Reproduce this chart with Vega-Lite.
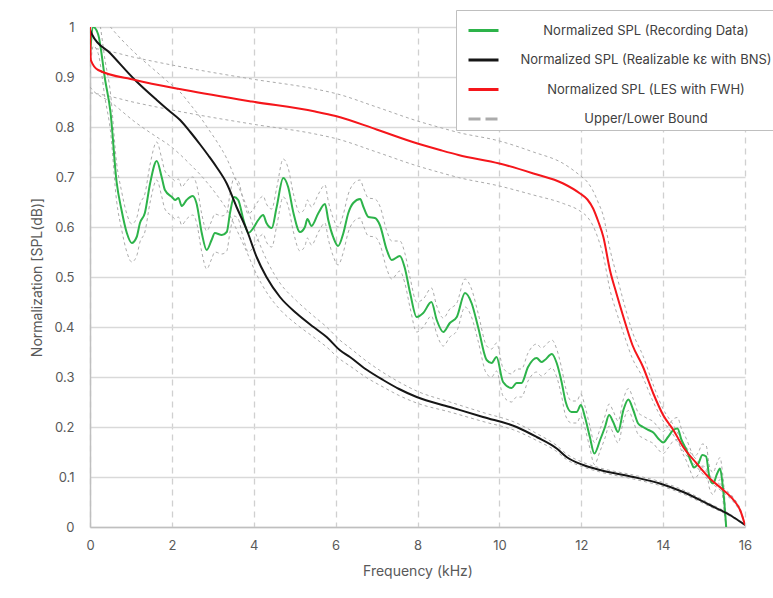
{
"$schema": "https://vega.github.io/schema/vega-lite/v6.json",
"width": 655, "height": 500,
"autosize": {"type": "none"},
"padding": {"left": 90, "top": 27, "right": 28, "bottom": 71},
"background": "white",
"config": {
 "font": "Inter",
 "view": {"stroke": null},
 "axis": {"labelColor": "#595959", "labelFontSize": 13, "titleColor": "#595959", "titleFontSize": 14, "titleFontWeight": "normal", "ticks": false, "domainColor": "#bfbfbf", "domainWidth": 1.5, "labelFlush": false}
},
"data": {"values": [
{"s":"Normalized SPL (Recording Data)","x":0,"y":0.945,"lo":0.907,"hi":0.983},
{"s":"Normalized SPL (Recording Data)","x":0.08,"y":1.0,"lo":0.962,"hi":1.038},
{"s":"Normalized SPL (Recording Data)","x":0.2,"y":0.985,"lo":0.947,"hi":1.023},
{"s":"Normalized SPL (Recording Data)","x":0.37,"y":0.894,"lo":0.856,"hi":0.932},
{"s":"Normalized SPL (Recording Data)","x":0.5,"y":0.83,"lo":0.792,"hi":0.868},
{"s":"Normalized SPL (Recording Data)","x":0.65,"y":0.69,"lo":0.652,"hi":0.728},
{"s":"Normalized SPL (Recording Data)","x":0.77,"y":0.634,"lo":0.596,"hi":0.672},
{"s":"Normalized SPL (Recording Data)","x":0.9,"y":0.588,"lo":0.55,"hi":0.626},
{"s":"Normalized SPL (Recording Data)","x":1.02,"y":0.568,"lo":0.53,"hi":0.606},
{"s":"Normalized SPL (Recording Data)","x":1.14,"y":0.58,"lo":0.542,"hi":0.618},
{"s":"Normalized SPL (Recording Data)","x":1.22,"y":0.608,"lo":0.57,"hi":0.646},
{"s":"Normalized SPL (Recording Data)","x":1.34,"y":0.628,"lo":0.59,"hi":0.666},
{"s":"Normalized SPL (Recording Data)","x":1.47,"y":0.688,"lo":0.65,"hi":0.726},
{"s":"Normalized SPL (Recording Data)","x":1.63,"y":0.732,"lo":0.694,"hi":0.77},
{"s":"Normalized SPL (Recording Data)","x":1.75,"y":0.70,"lo":0.662,"hi":0.738},
{"s":"Normalized SPL (Recording Data)","x":1.83,"y":0.674,"lo":0.636,"hi":0.712},
{"s":"Normalized SPL (Recording Data)","x":2.0,"y":0.66,"lo":0.622,"hi":0.698},
{"s":"Normalized SPL (Recording Data)","x":2.08,"y":0.654,"lo":0.616,"hi":0.692},
{"s":"Normalized SPL (Recording Data)","x":2.16,"y":0.658,"lo":0.62,"hi":0.696},
{"s":"Normalized SPL (Recording Data)","x":2.24,"y":0.642,"lo":0.604,"hi":0.68},
{"s":"Normalized SPL (Recording Data)","x":2.36,"y":0.654,"lo":0.616,"hi":0.692},
{"s":"Normalized SPL (Recording Data)","x":2.51,"y":0.662,"lo":0.624,"hi":0.70},
{"s":"Normalized SPL (Recording Data)","x":2.6,"y":0.648,"lo":0.61,"hi":0.686},
{"s":"Normalized SPL (Recording Data)","x":2.73,"y":0.588,"lo":0.55,"hi":0.626},
{"s":"Normalized SPL (Recording Data)","x":2.85,"y":0.554,"lo":0.516,"hi":0.592},
{"s":"Normalized SPL (Recording Data)","x":2.97,"y":0.574,"lo":0.536,"hi":0.612},
{"s":"Normalized SPL (Recording Data)","x":3.05,"y":0.588,"lo":0.55,"hi":0.626},
{"s":"Normalized SPL (Recording Data)","x":3.22,"y":0.584,"lo":0.546,"hi":0.622},
{"s":"Normalized SPL (Recording Data)","x":3.34,"y":0.59,"lo":0.552,"hi":0.628},
{"s":"Normalized SPL (Recording Data)","x":3.42,"y":0.628,"lo":0.59,"hi":0.666},
{"s":"Normalized SPL (Recording Data)","x":3.52,"y":0.66,"lo":0.622,"hi":0.698},
{"s":"Normalized SPL (Recording Data)","x":3.62,"y":0.654,"lo":0.616,"hi":0.692},
{"s":"Normalized SPL (Recording Data)","x":3.75,"y":0.614,"lo":0.576,"hi":0.652},
{"s":"Normalized SPL (Recording Data)","x":3.87,"y":0.588,"lo":0.55,"hi":0.626},
{"s":"Normalized SPL (Recording Data)","x":3.99,"y":0.598,"lo":0.56,"hi":0.636},
{"s":"Normalized SPL (Recording Data)","x":4.11,"y":0.614,"lo":0.576,"hi":0.652},
{"s":"Normalized SPL (Recording Data)","x":4.23,"y":0.624,"lo":0.586,"hi":0.662},
{"s":"Normalized SPL (Recording Data)","x":4.31,"y":0.608,"lo":0.57,"hi":0.646},
{"s":"Normalized SPL (Recording Data)","x":4.44,"y":0.598,"lo":0.56,"hi":0.636},
{"s":"Normalized SPL (Recording Data)","x":4.56,"y":0.64,"lo":0.602,"hi":0.678},
{"s":"Normalized SPL (Recording Data)","x":4.72,"y":0.698,"lo":0.66,"hi":0.736},
{"s":"Normalized SPL (Recording Data)","x":4.84,"y":0.68,"lo":0.642,"hi":0.718},
{"s":"Normalized SPL (Recording Data)","x":4.97,"y":0.628,"lo":0.59,"hi":0.666},
{"s":"Normalized SPL (Recording Data)","x":5.13,"y":0.59,"lo":0.552,"hi":0.628},
{"s":"Normalized SPL (Recording Data)","x":5.25,"y":0.60,"lo":0.562,"hi":0.638},
{"s":"Normalized SPL (Recording Data)","x":5.31,"y":0.616,"lo":0.578,"hi":0.654},
{"s":"Normalized SPL (Recording Data)","x":5.41,"y":0.602,"lo":0.564,"hi":0.64},
{"s":"Normalized SPL (Recording Data)","x":5.58,"y":0.628,"lo":0.59,"hi":0.666},
{"s":"Normalized SPL (Recording Data)","x":5.74,"y":0.646,"lo":0.608,"hi":0.684},
{"s":"Normalized SPL (Recording Data)","x":5.82,"y":0.614,"lo":0.576,"hi":0.652},
{"s":"Normalized SPL (Recording Data)","x":5.94,"y":0.58,"lo":0.542,"hi":0.618},
{"s":"Normalized SPL (Recording Data)","x":6.06,"y":0.562,"lo":0.524,"hi":0.60},
{"s":"Normalized SPL (Recording Data)","x":6.19,"y":0.588,"lo":0.55,"hi":0.626},
{"s":"Normalized SPL (Recording Data)","x":6.31,"y":0.628,"lo":0.59,"hi":0.666},
{"s":"Normalized SPL (Recording Data)","x":6.43,"y":0.648,"lo":0.61,"hi":0.686},
{"s":"Normalized SPL (Recording Data)","x":6.6,"y":0.656,"lo":0.618,"hi":0.694},
{"s":"Normalized SPL (Recording Data)","x":6.68,"y":0.64,"lo":0.602,"hi":0.678},
{"s":"Normalized SPL (Recording Data)","x":6.8,"y":0.62,"lo":0.582,"hi":0.658},
{"s":"Normalized SPL (Recording Data)","x":6.96,"y":0.618,"lo":0.58,"hi":0.656},
{"s":"Normalized SPL (Recording Data)","x":7.08,"y":0.604,"lo":0.566,"hi":0.642},
{"s":"Normalized SPL (Recording Data)","x":7.25,"y":0.554,"lo":0.516,"hi":0.592},
{"s":"Normalized SPL (Recording Data)","x":7.37,"y":0.534,"lo":0.496,"hi":0.572},
{"s":"Normalized SPL (Recording Data)","x":7.57,"y":0.542,"lo":0.512,"hi":0.572},
{"s":"Normalized SPL (Recording Data)","x":7.69,"y":0.518,"lo":0.488,"hi":0.548},
{"s":"Normalized SPL (Recording Data)","x":7.82,"y":0.468,"lo":0.438,"hi":0.498},
{"s":"Normalized SPL (Recording Data)","x":7.98,"y":0.42,"lo":0.39,"hi":0.45},
{"s":"Normalized SPL (Recording Data)","x":8.14,"y":0.428,"lo":0.40,"hi":0.456},
{"s":"Normalized SPL (Recording Data)","x":8.34,"y":0.45,"lo":0.422,"hi":0.478},
{"s":"Normalized SPL (Recording Data)","x":8.47,"y":0.414,"lo":0.386,"hi":0.442},
{"s":"Normalized SPL (Recording Data)","x":8.63,"y":0.39,"lo":0.362,"hi":0.418},
{"s":"Normalized SPL (Recording Data)","x":8.79,"y":0.408,"lo":0.38,"hi":0.436},
{"s":"Normalized SPL (Recording Data)","x":8.96,"y":0.42,"lo":0.392,"hi":0.448},
{"s":"Normalized SPL (Recording Data)","x":9.16,"y":0.468,"lo":0.44,"hi":0.496},
{"s":"Normalized SPL (Recording Data)","x":9.32,"y":0.448,"lo":0.42,"hi":0.476},
{"s":"Normalized SPL (Recording Data)","x":9.48,"y":0.40,"lo":0.372,"hi":0.428},
{"s":"Normalized SPL (Recording Data)","x":9.69,"y":0.334,"lo":0.306,"hi":0.362},
{"s":"Normalized SPL (Recording Data)","x":9.81,"y":0.328,"lo":0.30,"hi":0.356},
{"s":"Normalized SPL (Recording Data)","x":9.93,"y":0.34,"lo":0.312,"hi":0.368},
{"s":"Normalized SPL (Recording Data)","x":10.09,"y":0.29,"lo":0.262,"hi":0.318},
{"s":"Normalized SPL (Recording Data)","x":10.3,"y":0.278,"lo":0.25,"hi":0.306},
{"s":"Normalized SPL (Recording Data)","x":10.42,"y":0.288,"lo":0.26,"hi":0.316},
{"s":"Normalized SPL (Recording Data)","x":10.54,"y":0.288,"lo":0.26,"hi":0.316},
{"s":"Normalized SPL (Recording Data)","x":10.7,"y":0.32,"lo":0.292,"hi":0.348},
{"s":"Normalized SPL (Recording Data)","x":10.91,"y":0.338,"lo":0.31,"hi":0.366},
{"s":"Normalized SPL (Recording Data)","x":11.03,"y":0.33,"lo":0.302,"hi":0.358},
{"s":"Normalized SPL (Recording Data)","x":11.11,"y":0.334,"lo":0.306,"hi":0.362},
{"s":"Normalized SPL (Recording Data)","x":11.28,"y":0.346,"lo":0.318,"hi":0.374},
{"s":"Normalized SPL (Recording Data)","x":11.4,"y":0.328,"lo":0.30,"hi":0.356},
{"s":"Normalized SPL (Recording Data)","x":11.52,"y":0.29,"lo":0.262,"hi":0.318},
{"s":"Normalized SPL (Recording Data)","x":11.62,"y":0.25,"lo":0.222,"hi":0.278},
{"s":"Normalized SPL (Recording Data)","x":11.76,"y":0.23,"lo":0.208,"hi":0.252},
{"s":"Normalized SPL (Recording Data)","x":11.89,"y":0.23,"lo":0.208,"hi":0.252},
{"s":"Normalized SPL (Recording Data)","x":11.99,"y":0.244,"lo":0.222,"hi":0.266},
{"s":"Normalized SPL (Recording Data)","x":12.09,"y":0.22,"lo":0.198,"hi":0.242},
{"s":"Normalized SPL (Recording Data)","x":12.21,"y":0.18,"lo":0.158,"hi":0.202},
{"s":"Normalized SPL (Recording Data)","x":12.32,"y":0.147,"lo":0.125,"hi":0.169},
{"s":"Normalized SPL (Recording Data)","x":12.46,"y":0.174,"lo":0.152,"hi":0.196},
{"s":"Normalized SPL (Recording Data)","x":12.58,"y":0.20,"lo":0.178,"hi":0.222},
{"s":"Normalized SPL (Recording Data)","x":12.68,"y":0.224,"lo":0.202,"hi":0.246},
{"s":"Normalized SPL (Recording Data)","x":12.78,"y":0.21,"lo":0.188,"hi":0.232},
{"s":"Normalized SPL (Recording Data)","x":12.9,"y":0.19,"lo":0.168,"hi":0.212},
{"s":"Normalized SPL (Recording Data)","x":13.03,"y":0.234,"lo":0.212,"hi":0.256},
{"s":"Normalized SPL (Recording Data)","x":13.15,"y":0.255,"lo":0.233,"hi":0.277},
{"s":"Normalized SPL (Recording Data)","x":13.27,"y":0.234,"lo":0.212,"hi":0.256},
{"s":"Normalized SPL (Recording Data)","x":13.39,"y":0.207,"lo":0.185,"hi":0.229},
{"s":"Normalized SPL (Recording Data)","x":13.51,"y":0.20,"lo":0.178,"hi":0.222},
{"s":"Normalized SPL (Recording Data)","x":13.64,"y":0.194,"lo":0.172,"hi":0.216},
{"s":"Normalized SPL (Recording Data)","x":13.76,"y":0.189,"lo":0.167,"hi":0.211},
{"s":"Normalized SPL (Recording Data)","x":13.88,"y":0.177,"lo":0.155,"hi":0.199},
{"s":"Normalized SPL (Recording Data)","x":14.0,"y":0.169,"lo":0.147,"hi":0.191},
{"s":"Normalized SPL (Recording Data)","x":14.12,"y":0.18,"lo":0.158,"hi":0.202},
{"s":"Normalized SPL (Recording Data)","x":14.25,"y":0.194,"lo":0.172,"hi":0.216},
{"s":"Normalized SPL (Recording Data)","x":14.35,"y":0.197,"lo":0.175,"hi":0.219},
{"s":"Normalized SPL (Recording Data)","x":14.45,"y":0.174,"lo":0.152,"hi":0.196},
{"s":"Normalized SPL (Recording Data)","x":14.57,"y":0.154,"lo":0.132,"hi":0.176},
{"s":"Normalized SPL (Recording Data)","x":14.7,"y":0.127,"lo":0.105,"hi":0.149},
{"s":"Normalized SPL (Recording Data)","x":14.75,"y":0.119,"lo":0.097,"hi":0.141},
{"s":"Normalized SPL (Recording Data)","x":14.86,"y":0.127,"lo":0.105,"hi":0.149},
{"s":"Normalized SPL (Recording Data)","x":14.96,"y":0.144,"lo":0.122,"hi":0.166},
{"s":"Normalized SPL (Recording Data)","x":15.05,"y":0.141,"lo":0.119,"hi":0.163},
{"s":"Normalized SPL (Recording Data)","x":15.13,"y":0.10,"lo":0.078,"hi":0.122},
{"s":"Normalized SPL (Recording Data)","x":15.22,"y":0.087,"lo":0.065,"hi":0.109},
{"s":"Normalized SPL (Recording Data)","x":15.32,"y":0.107,"lo":0.085,"hi":0.129},
{"s":"Normalized SPL (Recording Data)","x":15.39,"y":0.117,"lo":0.095,"hi":0.139},
{"s":"Normalized SPL (Recording Data)","x":15.45,"y":0.087,"lo":0.065,"hi":0.109},
{"s":"Normalized SPL (Recording Data)","x":15.49,"y":0.054,"lo":0.032,"hi":0.076},
{"s":"Normalized SPL (Recording Data)","x":15.54,"y":0.0,"lo":0.0,"hi":0.0},
{"s":"Normalized SPL (Realizable kε with BNS)","x":0,"y":0.995,"lo":0.88,"hi":1.06},
{"s":"Normalized SPL (Realizable kε with BNS)","x":0.05,"y":0.985,"lo":0.875,"hi":1.05},
{"s":"Normalized SPL (Realizable kε with BNS)","x":0.5,"y":0.947,"lo":0.85,"hi":1.0},
{"s":"Normalized SPL (Realizable kε with BNS)","x":1.1,"y":0.894,"lo":0.81,"hi":0.948},
{"s":"Normalized SPL (Realizable kε with BNS)","x":1.63,"y":0.854,"lo":0.78,"hi":0.91},
{"s":"Normalized SPL (Realizable kε with BNS)","x":1.91,"y":0.834,"lo":0.765,"hi":0.89},
{"s":"Normalized SPL (Realizable kε with BNS)","x":2.2,"y":0.814,"lo":0.745,"hi":0.87},
{"s":"Normalized SPL (Realizable kε with BNS)","x":2.45,"y":0.79,"lo":0.725,"hi":0.845},
{"s":"Normalized SPL (Realizable kε with BNS)","x":2.69,"y":0.765,"lo":0.705,"hi":0.82},
{"s":"Normalized SPL (Realizable kε with BNS)","x":2.9,"y":0.742,"lo":0.685,"hi":0.795},
{"s":"Normalized SPL (Realizable kε with BNS)","x":3.09,"y":0.72,"lo":0.665,"hi":0.772},
{"s":"Normalized SPL (Realizable kε with BNS)","x":3.34,"y":0.687,"lo":0.635,"hi":0.737},
{"s":"Normalized SPL (Realizable kε with BNS)","x":3.58,"y":0.64,"lo":0.595,"hi":0.69},
{"s":"Normalized SPL (Realizable kε with BNS)","x":3.83,"y":0.594,"lo":0.55,"hi":0.64},
{"s":"Normalized SPL (Realizable kε with BNS)","x":4.07,"y":0.54,"lo":0.505,"hi":0.582},
{"s":"Normalized SPL (Realizable kε with BNS)","x":4.31,"y":0.50,"lo":0.47,"hi":0.535},
{"s":"Normalized SPL (Realizable kε with BNS)","x":4.64,"y":0.46,"lo":0.435,"hi":0.488},
{"s":"Normalized SPL (Realizable kε with BNS)","x":5.05,"y":0.427,"lo":0.405,"hi":0.452},
{"s":"Normalized SPL (Realizable kε with BNS)","x":5.46,"y":0.40,"lo":0.38,"hi":0.422},
{"s":"Normalized SPL (Realizable kε with BNS)","x":5.78,"y":0.38,"lo":0.36,"hi":0.40},
{"s":"Normalized SPL (Realizable kε with BNS)","x":6.1,"y":0.354,"lo":0.336,"hi":0.374},
{"s":"Normalized SPL (Realizable kε with BNS)","x":6.35,"y":0.34,"lo":0.322,"hi":0.358},
{"s":"Normalized SPL (Realizable kε with BNS)","x":6.75,"y":0.315,"lo":0.299,"hi":0.332},
{"s":"Normalized SPL (Realizable kε with BNS)","x":7.16,"y":0.294,"lo":0.28,"hi":0.309},
{"s":"Normalized SPL (Realizable kε with BNS)","x":7.55,"y":0.276,"lo":0.263,"hi":0.29},
{"s":"Normalized SPL (Realizable kε with BNS)","x":7.98,"y":0.26,"lo":0.248,"hi":0.272},
{"s":"Normalized SPL (Realizable kε with BNS)","x":8.79,"y":0.24,"lo":0.23,"hi":0.25},
{"s":"Normalized SPL (Realizable kε with BNS)","x":9.6,"y":0.22,"lo":0.211,"hi":0.229},
{"s":"Normalized SPL (Realizable kε with BNS)","x":10.42,"y":0.20,"lo":0.192,"hi":0.208},
{"s":"Normalized SPL (Realizable kε with BNS)","x":10.91,"y":0.18,"lo":0.173,"hi":0.187},
{"s":"Normalized SPL (Realizable kε with BNS)","x":11.4,"y":0.157,"lo":0.151,"hi":0.163},
{"s":"Normalized SPL (Realizable kε with BNS)","x":11.64,"y":0.14,"lo":0.135,"hi":0.146},
{"s":"Normalized SPL (Realizable kε with BNS)","x":12.05,"y":0.124,"lo":0.12,"hi":0.129},
{"s":"Normalized SPL (Realizable kε with BNS)","x":12.46,"y":0.114,"lo":0.11,"hi":0.118},
{"s":"Normalized SPL (Realizable kε with BNS)","x":13.27,"y":0.10,"lo":0.096,"hi":0.104},
{"s":"Normalized SPL (Realizable kε with BNS)","x":13.92,"y":0.087,"lo":0.083,"hi":0.091},
{"s":"Normalized SPL (Realizable kε with BNS)","x":14.49,"y":0.07,"lo":0.066,"hi":0.074},
{"s":"Normalized SPL (Realizable kε with BNS)","x":15.14,"y":0.044,"lo":0.041,"hi":0.047},
{"s":"Normalized SPL (Realizable kε with BNS)","x":15.63,"y":0.024,"lo":0.022,"hi":0.026},
{"s":"Normalized SPL (Realizable kε with BNS)","x":16,"y":0.004,"lo":0.003,"hi":0.005},
{"s":"Normalized SPL (LES with FWH)","x":0,"y":1.0,"lo":0.868,"hi":0.958},
{"s":"Normalized SPL (LES with FWH)","x":0.02,"y":0.934,"lo":0.868,"hi":0.958},
{"s":"Normalized SPL (LES with FWH)","x":0.2,"y":0.914,"lo":0.866,"hi":0.956},
{"s":"Normalized SPL (LES with FWH)","x":1.1,"y":0.894,"lo":0.849,"hi":0.939},
{"s":"Normalized SPL (LES with FWH)","x":2.32,"y":0.874,"lo":0.829,"hi":0.919},
{"s":"Normalized SPL (LES with FWH)","x":3.95,"y":0.851,"lo":0.806,"hi":0.896},
{"s":"Normalized SPL (LES with FWH)","x":5.5,"y":0.831,"lo":0.786,"hi":0.876},
{"s":"Normalized SPL (LES with FWH)","x":6.0,"y":0.822,"lo":0.777,"hi":0.867},
{"s":"Normalized SPL (LES with FWH)","x":7.0,"y":0.795,"lo":0.75,"hi":0.84},
{"s":"Normalized SPL (LES with FWH)","x":8.0,"y":0.767,"lo":0.722,"hi":0.812},
{"s":"Normalized SPL (LES with FWH)","x":8.55,"y":0.754,"lo":0.709,"hi":0.799},
{"s":"Normalized SPL (LES with FWH)","x":9.0,"y":0.744,"lo":0.699,"hi":0.789},
{"s":"Normalized SPL (LES with FWH)","x":10.0,"y":0.727,"lo":0.682,"hi":0.772},
{"s":"Normalized SPL (LES with FWH)","x":10.83,"y":0.707,"lo":0.664,"hi":0.75},
{"s":"Normalized SPL (LES with FWH)","x":11.56,"y":0.687,"lo":0.647,"hi":0.727},
{"s":"Normalized SPL (LES with FWH)","x":11.97,"y":0.667,"lo":0.632,"hi":0.703},
{"s":"Normalized SPL (LES with FWH)","x":12.15,"y":0.655,"lo":0.62,"hi":0.69},
{"s":"Normalized SPL (LES with FWH)","x":12.29,"y":0.637,"lo":0.602,"hi":0.672},
{"s":"Normalized SPL (LES with FWH)","x":12.42,"y":0.61,"lo":0.575,"hi":0.648},
{"s":"Normalized SPL (LES with FWH)","x":12.54,"y":0.58,"lo":0.542,"hi":0.622},
{"s":"Normalized SPL (LES with FWH)","x":12.7,"y":0.514,"lo":0.475,"hi":0.556},
{"s":"Normalized SPL (LES with FWH)","x":12.86,"y":0.467,"lo":0.43,"hi":0.505},
{"s":"Normalized SPL (LES with FWH)","x":13.03,"y":0.42,"lo":0.388,"hi":0.452},
{"s":"Normalized SPL (LES with FWH)","x":13.25,"y":0.364,"lo":0.337,"hi":0.39},
{"s":"Normalized SPL (LES with FWH)","x":13.51,"y":0.32,"lo":0.298,"hi":0.342},
{"s":"Normalized SPL (LES with FWH)","x":13.76,"y":0.267,"lo":0.25,"hi":0.284},
{"s":"Normalized SPL (LES with FWH)","x":14.0,"y":0.224,"lo":0.212,"hi":0.236},
{"s":"Normalized SPL (LES with FWH)","x":14.25,"y":0.194,"lo":0.184,"hi":0.204},
{"s":"Normalized SPL (LES with FWH)","x":14.49,"y":0.16,"lo":0.152,"hi":0.168},
{"s":"Normalized SPL (LES with FWH)","x":14.82,"y":0.127,"lo":0.12,"hi":0.134},
{"s":"Normalized SPL (LES with FWH)","x":15.14,"y":0.097,"lo":0.091,"hi":0.103},
{"s":"Normalized SPL (LES with FWH)","x":15.47,"y":0.074,"lo":0.069,"hi":0.079},
{"s":"Normalized SPL (LES with FWH)","x":15.76,"y":0.05,"lo":0.046,"hi":0.054},
{"s":"Normalized SPL (LES with FWH)","x":15.88,"y":0.034,"lo":0.031,"hi":0.037},
{"s":"Normalized SPL (LES with FWH)","x":16,"y":0.004,"lo":0.003,"hi":0.005}
]},
"encoding": {
 "x": {"field": "x", "type": "quantitative", "scale": {"domain": [0, 16], "nice": false},
  "axis": {"values": [0,2,4,6,8,10,12,14,16], "title": "Frequency (kHz)", "labelPadding": 12, "titlePadding": 12, "grid": true, "gridDash": [6,5], "gridColor": "#d0d0d0", "gridWidth": 1.3}}
},
"layer": [
 {"mark": {"type": "line", "clip": true, "strokeDash": [3,3], "strokeWidth": 1, "interpolate": "monotone"},
  "encoding": {
   "y": {"field": "hi", "type": "quantitative", "scale": {"domain": [0, 1], "nice": false}, "title": "Normalization [SPL(dB)]",
    "axis": {"values": [0,0.1,0.2,0.3,0.4,0.5,0.6,0.7,0.8,0.9,1], "format": "~g", "labelPadding": 16, "titlePadding": 9, "grid": true, "gridColor": "#d9d9d9", "gridWidth": 1.5}},
   "detail": {"field": "s"},
   "color": {"datum": "Upper/Lower Bound", "scale": {"domain": ["Normalized SPL (Recording Data)", "Normalized SPL (Realizable kε with BNS)", "Normalized SPL (LES with FWH)", "Upper/Lower Bound"], "range": ["#2db34a", "#161616", "#f5161b", "#ababab"]}}
  }},
 {"mark": {"type": "line", "clip": true, "strokeDash": [3,3], "strokeWidth": 1, "interpolate": "monotone"},
  "encoding": {
   "y": {"field": "lo", "type": "quantitative", "scale": {"domain": [0, 1], "nice": false}, "title": "Normalization [SPL(dB)]"},
   "detail": {"field": "s"},
   "color": {"datum": "Upper/Lower Bound", "scale": {"domain": ["Normalized SPL (Recording Data)", "Normalized SPL (Realizable kε with BNS)", "Normalized SPL (LES with FWH)", "Upper/Lower Bound"], "range": ["#2db34a", "#161616", "#f5161b", "#ababab"]}}
  }},
 {"mark": {"type": "line", "clip": true, "strokeWidth": 2, "interpolate": "monotone"},
  "encoding": {
   "y": {"field": "y", "type": "quantitative", "scale": {"domain": [0, 1], "nice": false}, "title": "Normalization [SPL(dB)]"},
   "color": {"field": "s", "type": "nominal", "title": null,
    "scale": {"domain": ["Normalized SPL (Recording Data)", "Normalized SPL (Realizable kε with BNS)", "Normalized SPL (LES with FWH)", "Upper/Lower Bound"], "range": ["#2db34a", "#161616", "#f5161b", "#ababab"]},
    "legend": {"title": null, "orient": "none", "legendX": 366, "legendY": -17, "direction": "vertical",
     "fillColor": "white", "strokeColor": "#bfbfbf", "padding": 4, "cornerRadius": 0,
     "symbolType": "stroke", "symbolSize": 900, "symbolStrokeWidth": 3, "symbolOffset": 7,
     "labelFontSize": 13, "labelColor": "#404040", "labelAlign": "center", "labelOffset": 146, "rowPadding": 5.5, "labelLimit": 400,
     "encode": {"symbols": {"update": {"strokeDash": {"signal": "datum.label === 'Upper/Lower Bound' ? [12,5] : [1,0]"}}}}}
   }
  }}
]
}
